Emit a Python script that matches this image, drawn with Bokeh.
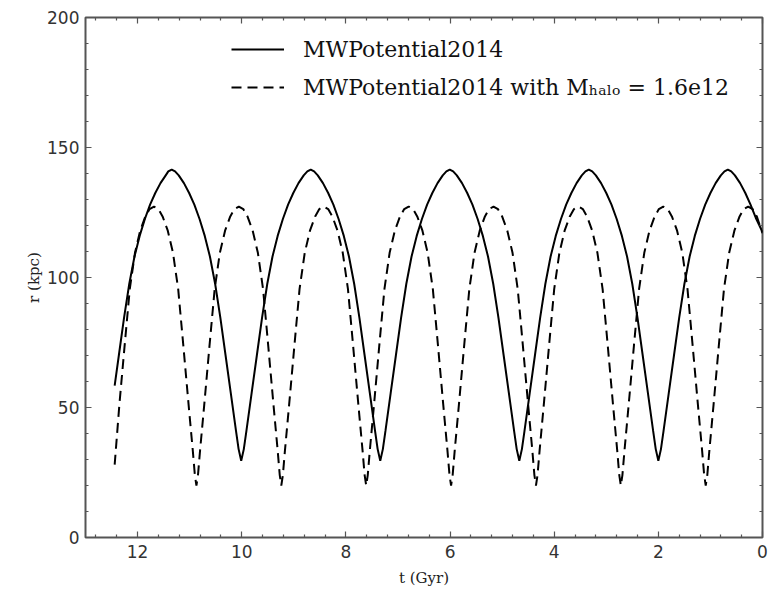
from bokeh.plotting import figure
from bokeh.models import Range1d, SingleIntervalTicker, FixedTicker, LinearAxis, Legend, LegendItem
from bokeh.embed import file_html
from bokeh.resources import INLINE

# ---- data (t in Gyr, r in kpc) ----
t_solid = [12.44, 12.36, 12.26, 12.16, 12.06, 11.96, 11.86, 11.76, 11.66, 11.56, 11.46, 11.41, 11.345,
           11.28, 11.21, 11.11, 11.01, 10.91, 10.81, 10.71, 10.61, 10.51, 10.41, 10.31, 10.21, 10.11, 10.06, 10.01,
           9.96, 9.91, 9.81, 9.71, 9.61, 9.51, 9.41, 9.31, 9.21, 9.11, 9.01, 8.91, 8.81, 8.74, 8.675,
           8.61, 8.54, 8.44, 8.34, 8.24, 8.14, 8.04, 7.94, 7.84, 7.74, 7.64, 7.54, 7.44, 7.39, 7.34,
           7.29, 7.24, 7.14, 7.04, 6.94, 6.84, 6.74, 6.64, 6.54, 6.44, 6.34, 6.24, 6.14, 6.07, 6.005,
           5.94, 5.87, 5.77, 5.67, 5.57, 5.47, 5.37, 5.27, 5.17, 5.07, 4.97, 4.87, 4.77, 4.72, 4.67,
           4.62, 4.57, 4.47, 4.37, 4.27, 4.17, 4.07, 3.97, 3.87, 3.77, 3.67, 3.57, 3.47, 3.40, 3.335,
           3.27, 3.20, 3.10, 3.00, 2.90, 2.80, 2.70, 2.60, 2.50, 2.40, 2.30, 2.20, 2.10, 2.05, 2.00,
           1.95, 1.90, 1.80, 1.70, 1.60, 1.50, 1.40, 1.30, 1.20, 1.10, 1.00, 0.90, 0.80, 0.73, 0.665,
           0.60, 0.53, 0.43, 0.33, 0.23, 0.13, 0.00]
r_solid = [58.4, 70, 84.5, 97.5, 108, 116, 122.5, 128, 132.5, 136.3, 139.3, 140.8, 141.5,
           140.8, 139.3, 136.3, 132.5, 128, 122.5, 116, 108, 97.5, 84.5, 70, 55.5, 41, 34, 29.5,
           34, 41, 55.5, 70, 84.5, 97.5, 108, 116, 122.5, 128, 132.5, 136.3, 139.3, 140.8, 141.5,
           140.8, 139.3, 136.3, 132.5, 128, 122.5, 116, 108, 97.5, 84.5, 70, 55.5, 41, 34, 29.5,
           34, 41, 55.5, 70, 84.5, 97.5, 108, 116, 122.5, 128, 132.5, 136.3, 139.3, 140.8, 141.5,
           140.8, 139.3, 136.3, 132.5, 128, 122.5, 116, 108, 97.5, 84.5, 70, 55.5, 41, 34, 29.5,
           34, 41, 55.5, 70, 84.5, 97.5, 108, 116, 122.5, 128, 132.5, 136.3, 139.3, 140.8, 141.5,
           140.8, 139.3, 136.3, 132.5, 128, 122.5, 116, 108, 97.5, 84.5, 70, 55.5, 41, 34, 29.5,
           34, 41, 55.5, 70, 84.5, 97.5, 108, 116, 122.5, 128, 132.5, 136.3, 139.3, 140.8, 141.5,
           140.8, 139.3, 136.3, 132.5, 128, 123, 117.5]

t_dashed = [12.44, 12.35, 12.25, 12.15, 12.05, 11.95, 11.85, 11.77, 11.685,
            11.60, 11.52, 11.42, 11.32, 11.22, 11.12, 11.02, 10.94, 10.90, 10.87,
            10.84, 10.80, 10.72, 10.62, 10.52, 10.42, 10.32, 10.22, 10.14, 10.055,
            9.97, 9.89, 9.79, 9.69, 9.59, 9.49, 9.39, 9.31, 9.27, 9.24,
            9.21, 9.17, 9.09, 8.99, 8.89, 8.79, 8.69, 8.59, 8.51, 8.425,
            8.34, 8.26, 8.16, 8.06, 7.96, 7.86, 7.76, 7.68, 7.64, 7.61,
            7.58, 7.54, 7.46, 7.36, 7.26, 7.16, 7.06, 6.96, 6.88, 6.795,
            6.71, 6.63, 6.53, 6.43, 6.33, 6.23, 6.13, 6.05, 6.01, 5.98,
            5.95, 5.91, 5.83, 5.73, 5.63, 5.53, 5.43, 5.33, 5.25, 5.165,
            5.08, 5.00, 4.90, 4.80, 4.70, 4.60, 4.50, 4.42, 4.38, 4.35,
            4.32, 4.28, 4.20, 4.10, 4.00, 3.90, 3.80, 3.70, 3.62, 3.535,
            3.45, 3.37, 3.27, 3.17, 3.07, 2.97, 2.87, 2.79, 2.75, 2.72,
            2.69, 2.65, 2.57, 2.47, 2.37, 2.27, 2.17, 2.07, 1.99, 1.905,
            1.82, 1.74, 1.64, 1.54, 1.44, 1.34, 1.24, 1.16, 1.12, 1.09,
            1.06, 1.02, 0.94, 0.84, 0.74, 0.64, 0.54, 0.44, 0.36, 0.275,
            0.19, 0.11, 0.00]
r_dashed = [28, 51, 73.5, 95.5, 109.5, 118, 123.5, 126.3, 127.3,
            126.3, 123.5, 118, 109.5, 95.5, 73.5, 51, 33.5, 24, 20,
            24, 33.5, 51, 73.5, 95.5, 109.5, 118, 123.5, 126.3, 127.3,
            126.3, 123.5, 118, 109.5, 95.5, 73.5, 51, 33.5, 24, 20,
            24, 33.5, 51, 73.5, 95.5, 109.5, 118, 123.5, 126.3, 127.3,
            126.3, 123.5, 118, 109.5, 95.5, 73.5, 51, 33.5, 24, 20,
            24, 33.5, 51, 73.5, 95.5, 109.5, 118, 123.5, 126.3, 127.3,
            126.3, 123.5, 118, 109.5, 95.5, 73.5, 51, 33.5, 24, 20,
            24, 33.5, 51, 73.5, 95.5, 109.5, 118, 123.5, 126.3, 127.3,
            126.3, 123.5, 118, 109.5, 95.5, 73.5, 51, 33.5, 24, 20,
            24, 33.5, 51, 73.5, 95.5, 109.5, 118, 123.5, 126.3, 127.3,
            126.3, 123.5, 118, 109.5, 95.5, 73.5, 51, 33.5, 24, 20,
            24, 33.5, 51, 73.5, 95.5, 109.5, 118, 123.5, 126.3, 127.3,
            126.3, 123.5, 118, 109.5, 95.5, 73.5, 51, 33.5, 24, 20,
            24, 33.5, 51, 73.5, 95.5, 109.5, 118, 123.5, 126.3, 127.3,
            126.3, 123.5, 117]

label_solid = "MWPotential2014"
label_dashed = "MWPotential2014 with M\u2095\u2090\u2097\u2092 = 1.6e12"
x_label = "t (Gyr)"
y_label = "r (kpc)"

# tick positions (axis configuration)
x_major = [0, 2, 4, 6, 8, 10, 12]
x_minor = [round(0.4 * i, 1) for i in range(33) if i % 5 != 0]
y_major = [0, 50, 100, 150, 200]
y_minor = [v for v in range(0, 201, 10) if v % 50 != 0]

FRAME = "#555555"
TICKTXT = "#333333"

p = figure(width=770, height=589, output_backend="svg", toolbar_location=None,
           x_range=Range1d(13, 0), y_range=Range1d(0, 200),
           min_border_left=85, min_border_right=8, min_border_top=17, min_border_bottom=51,
           x_axis_location=None, y_axis_location=None)
p.background_fill_color = "white"
p.border_fill_color = "white"
p.outline_line_color = FRAME
p.outline_line_width = 2
p.xgrid.visible = False
p.ygrid.visible = False


def style_axis(ax):
    ax.axis_line_color = None
    ax.major_tick_in = 6
    ax.major_tick_out = 0
    ax.minor_tick_in = 3
    ax.minor_tick_out = 0
    ax.major_tick_line_color = FRAME
    ax.minor_tick_line_color = FRAME
    ax.major_tick_line_width = 1.2
    ax.minor_tick_line_width = 1.2
    ax.major_label_text_font = "DejaVu Sans"
    ax.major_label_text_font_size = "17px"
    ax.major_label_text_color = TICKTXT


xb = LinearAxis(ticker=FixedTicker(ticks=x_major, minor_ticks=x_minor), axis_label=x_label)
style_axis(xb)
xb.major_label_standoff = 7
xb.axis_label_standoff = 8
xb.axis_label_text_font = "DejaVu Serif"
xb.axis_label_text_font_size = "15px"
xb.axis_label_text_font_style = "normal"
xb.axis_label_text_color = "#222222"
p.add_layout(xb, "below")

yl = LinearAxis(ticker=FixedTicker(ticks=y_major, minor_ticks=y_minor), axis_label=y_label)
style_axis(yl)
yl.major_label_standoff = 6
yl.axis_label_standoff = 1
yl.axis_label_text_font = "DejaVu Serif"
yl.axis_label_text_font_size = "15px"
yl.axis_label_text_font_style = "normal"
yl.axis_label_text_color = "#222222"
p.add_layout(yl, "left")


def mirror_axis(majors, minors):
    # label-free axes: every tick drawn as a "minor" tick so no label text is produced
    a1 = LinearAxis(ticker=FixedTicker(ticks=[], minor_ticks=majors))
    a2 = LinearAxis(ticker=FixedTicker(ticks=[], minor_ticks=minors))
    for a, ln in ((a1, 6), (a2, 3)):
        a.axis_line_color = None
        a.major_tick_line_color = None
        a.minor_tick_in = ln
        a.minor_tick_out = 0
        a.minor_tick_line_color = FRAME
        a.minor_tick_line_width = 1.2
    return a1, a2


for a in mirror_axis(x_major, x_minor):
    p.add_layout(a, "above")
for a in mirror_axis(y_major, y_minor):
    p.add_layout(a, "right")

r1 = p.line(t_solid, r_solid, line_color="black", line_width=2)
r2 = p.line(t_dashed, r_dashed, line_color="black", line_width=2, line_dash="10 6")

legend = Legend(items=[LegendItem(label=label_solid, renderers=[r1]),
                       LegendItem(label=label_dashed, renderers=[r2])],
                location=(146, 431))
legend.border_line_color = None
legend.background_fill_alpha = 0
legend.padding = 0
legend.margin = 0
legend.spacing = 0
legend.glyph_width = 53
legend.glyph_height = 38
legend.label_height = 38
legend.label_standoff = 19
legend.label_text_font = "DejaVu Serif"
legend.label_text_font_size = "22px"
legend.label_text_color = "#111111"
p.add_layout(legend)

open("out.html", "w").write(file_html(p, INLINE))
